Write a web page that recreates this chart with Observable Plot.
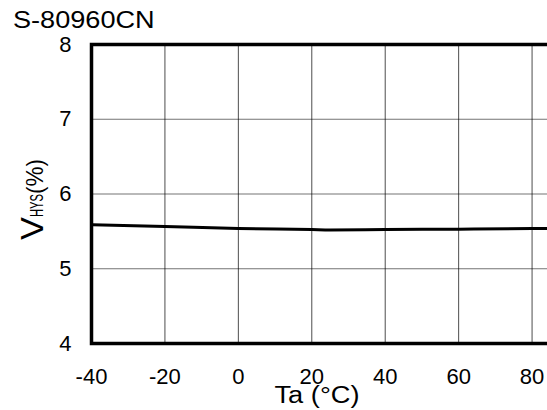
<!DOCTYPE html>
<html><head><meta charset="utf-8">
<script src="https://cdn.jsdelivr.net/npm/d3@7"></script>
<script src="https://cdn.jsdelivr.net/npm/@observablehq/plot@0.6"></script>
<style>
html,body{margin:0;padding:0;background:#fff;overflow:hidden;width:547px;height:410px;}
#title{position:relative;height:30px;font-family:"Liberation Sans",Arial,sans-serif;}
#title span{position:absolute;left:13px;top:8px;font-size:24px;line-height:24px;display:inline-block;transform-origin:0 0;transform:scaleX(1.13);white-space:nowrap;color:#000}
#chart{width:547px;height:380px;overflow:hidden}
#chart svg{display:block;max-width:none !important;width:620px;height:380px}
</style></head><body>
<div id="title"><span id="titletext"></span></div>
<div id="chart"></div>
<script>
const title = "S-80960CN";
const xLabel = "Ta (°C)";
const yLabelMain = "V";
const yLabelSub = "HYS";
const yLabelUnit = "(%)";
const temps = [-40, -20, 0, 20, 25, 40, 60, 80, 100];
const vhys = [5.588, 5.565, 5.54, 5.525, 5.52, 5.525, 5.53, 5.537, 5.552];
const xTicks = [-40, -20, 0, 20, 40, 60, 80, 100];
const yTicks = [4, 5, 6, 7, 8];

document.getElementById("titletext").textContent = title;
const data = temps.map((t, i) => ({t, v: vhys[i]}));

const chart = Plot.plot({
  width: 620, height: 380,
  marginLeft: 91, marginRight: 15, marginTop: 14, marginBottom: 67,
  style: {fontFamily: "Liberation Sans, Arial, sans-serif", fontSize: "22px", color: "#000", background: "#fff", maxWidth: "none"},
  x: {domain: [-40, 100], label: null},
  y: {domain: [4, 8], label: null},
  marks: [
    Plot.gridX(xTicks.filter(d => d > -40 && d < 100), {stroke: "#000", strokeOpacity: 0.7, strokeWidth: 1}),
    Plot.gridY(yTicks.filter(d => d > 4 && d < 8), {stroke: "#000", strokeOpacity: 0.55, strokeWidth: 1}),
    Plot.axisX({ticks: xTicks, tickSize: 0, tickPadding: 25, label: null, tickFormat: d => String(d)}),
    Plot.axisY({ticks: yTicks, tickSize: 0, tickPadding: 20, label: null, tickFormat: d => String(d)}),
    Plot.line(data, {x: "t", y: "v", stroke: "#000", strokeWidth: 3, curve: "monotone-x"}),
    Plot.frame({stroke: "#000", strokeWidth: 3.5})
  ]
});
document.getElementById("chart").appendChild(chart);

const svg = d3.select(chart);
svg.append("text")
  .attr("x", 317).attr("y", 373)
  .attr("text-anchor", "middle")
  .attr("font-size", 23)
  .attr("textLength", 85).attr("lengthAdjust", "spacingAndGlyphs")
  .attr("fill", "#000")
  .text(xLabel);

const yl = svg.append("text")
  .attr("transform", "translate(43,210) rotate(-90)")
  .attr("text-anchor", "start")
  .attr("fill", "#000");
yl.append("tspan").attr("font-size", 31).attr("textLength", 23).attr("lengthAdjust", "spacingAndGlyphs").text(yLabelMain);
yl.append("tspan").attr("font-size", 18).attr("textLength", 23).attr("lengthAdjust", "spacingAndGlyphs").text(yLabelSub);
yl.append("tspan").attr("font-size", 24).attr("textLength", 35).attr("lengthAdjust", "spacingAndGlyphs").text(yLabelUnit);
</script>
</body></html>
